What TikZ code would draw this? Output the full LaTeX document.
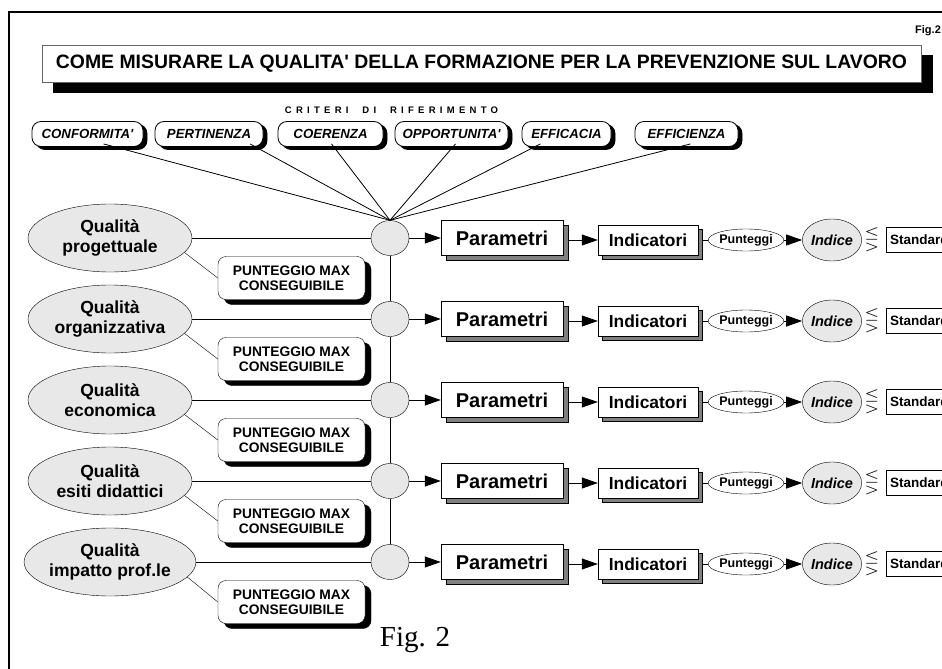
\documentclass[tikz,border=0pt]{standalone}
\usepackage{fontspec}
\usepackage{amssymb}
\setmainfont{Liberation Sans}
\newfontfamily\figfont{Liberation Serif}
\newfontfamily\spacedfont[LetterSpace=45]{Liberation Sans}
\usetikzlibrary{arrows.meta,shapes.geometric,shadows,positioning}
\tikzset{
  qf-titolo/.style={draw=black!60, fill=white, minimum width=879pt, minimum height=37pt, inner sep=0pt,
    font=\fontsize{19.4}{22}\selectfont\bfseries,
    copy shadow={shadow xshift=11pt, shadow yshift=-10pt, fill=black, draw=black}},
  qf-criterio/.style={draw=black, fill=white, rounded corners=9pt, minimum height=25pt, inner xsep=3pt,
    font=\fontsize{13.2}{15}\selectfont\bfseries\itshape, line width=0.8pt,
    copy shadow={shadow xshift=4pt, shadow yshift=-3pt, fill=black, draw=black}},
  qf-qualita/.style={ellipse, draw=black, fill=black!9, minimum width=164pt, minimum height=68pt,
    inner sep=0pt, align=center, font=\fontsize{17.5}{20}\selectfont\bfseries},
  qf-puntmax/.style={draw=black, fill=white, rounded corners=8pt, minimum width=147pt, minimum height=43pt,
    inner sep=0pt, align=center, font=\fontsize{13.8}{15.5}\selectfont\bfseries,
    copy shadow={shadow xshift=6pt, shadow yshift=-5pt, fill=black, draw=black}},
  qf-nodo/.style={ellipse, draw=black, fill=black!9, minimum width=38pt, minimum height=35pt, inner sep=0pt},
  qf-parametri/.style={draw=black, fill=white, minimum width=122pt, minimum height=35pt, inner sep=0pt,
    font=\fontsize{20}{22}\selectfont\bfseries,
    copy shadow={shadow xshift=5pt, shadow yshift=-5pt, fill=black!50, draw=black}},
  qf-indicatori/.style={draw=black, fill=white, minimum width=100pt, minimum height=30pt, inner sep=0pt,
    font=\fontsize{17.4}{19}\selectfont\bfseries,
    copy shadow={shadow xshift=4pt, shadow yshift=-4pt, fill=black!50, draw=black}},
  qf-punteggi/.style={ellipse, draw=black, fill=white, minimum width=70pt, minimum height=22pt, inner sep=0pt,
    font=\fontsize{12.5}{14}\selectfont\bfseries},
  qf-indice/.style={ellipse, draw=black, fill=black!9, minimum width=44pt, minimum height=42pt, inner sep=0pt,
    font=\fontsize{14.5}{16}\selectfont\bfseries\itshape},
  qf-standard/.style={draw=black, fill=white, anchor=west, minimum height=25pt, text width=70pt, align=left,
    inner xsep=4pt, font=\fontsize{13.5}{15}\selectfont\bfseries},
  qf-freccia/.style={-{Triangle[length=16pt, width=11pt]}, line width=0.8pt},
  qf-linea/.style={line width=0.8pt}
}

\begin{document}
\begin{tikzpicture}[x=1pt, y=-1pt]
  \useasboundingbox (0,0) rectangle (942,669);
  \clip (0,0) rectangle (942,669);
  % outer frame
  \draw[line width=2pt] (8.5,12) rectangle (990,720);

  % title
  \node[qf-titolo] (titolo) at (481.5,63.5) {COME MISURARE LA QUALITA\textquotesingle{} DELLA FORMAZIONE PER LA PREVENZIONE SUL LAVORO};
  \node[font=\fontsize{11}{12}\selectfont\bfseries, anchor=west, inner sep=0pt] (figtop) at (915,31) {Fig.2};

  % criteri di riferimento
  \node[font=\fontsize{9.5}{10}\selectfont\spacedfont\bfseries, inner sep=0pt] (criteri) at (391.5,110) {CRITERI\ \ DI\ \ RIFERIMENTO};
  \node[qf-criterio, minimum width=111pt] (crit1) at (87.5,134) {CONFORMITA\textquotesingle};
  \node[qf-criterio, minimum width=108pt] (crit2) at (209,134) {PERTINENZA};
  \node[qf-criterio, minimum width=105pt] (crit3) at (330.5,134) {COERENZA};
  \node[qf-criterio, minimum width=113pt] (crit4) at (451.5,134) {OPPORTUNITA\textquotesingle};
  \node[qf-criterio, minimum width=89pt] (crit5) at (566.5,134) {EFFICACIA};
  \node[qf-criterio, minimum width=103pt] (crit6) at (686.5,134) {EFFICIENZA};

  % one row per qualita
  \foreach \i/\riga in {1/progettuale,2/organizzativa,3/economica,4/esiti didattici,5/impatto prof.le} {
    \pgfmathsetmacro\yy{238+81*(\i-1)}
    \node[qf-qualita] (qual\i) at (110,\yy) {Qualità\\\riga};
    \node[qf-puntmax] (pmax\i) at (291.5,\yy+40) {PUNTEGGIO MAX\\CONSEGUIBILE};
    \node[qf-nodo] (nodo\i) at (390,\yy) {};
    \node[qf-parametri] (par\i) at (502,\yy) {Parametri};
    \node[qf-indicatori] (ind\i) at (648,\yy+2) {Indicatori};
    \node[qf-punteggi] (pun\i) at (746,\yy+2) {Punteggi};
    \node[qf-indice] (idx\i) at (832,\yy+2) {Indice};
    \node[font=\fontsize{19}{20}\selectfont, inner sep=0pt] (cfr\i) at (872,\yy+2) {$\lesseqgtr$};
    \node[qf-standard] (std\i) at (886,\yy+2) {Standard};
    \draw[qf-linea] (qual\i.east) -- (nodo\i.west);
    \draw (qual\i.-11) -- (pmax\i.west);
    \draw[qf-freccia] (nodo\i.east) -- (par\i.west);
    \draw[qf-freccia] ([xshift=5pt]par\i.east |- ind\i.west) -- (ind\i.west);
    \draw[qf-linea] ([xshift=4pt]ind\i.east) -- (pun\i.west);
    \draw[qf-freccia] (pun\i.east) -- (idx\i.west);
  }
  % vertical link between the nodes
  \foreach \i [evaluate=\i as \j using int(\i+1)] in {1,...,4}
    \draw[qf-linea] (nodo\i.south) -- (nodo\j.north);

  % criteri to first node
  \draw[qf-linea] ([xshift=16pt, yshift=3pt]crit1.south) -- (nodo1.north);
  \draw[qf-linea] ([xshift=41pt, yshift=3pt]crit2.south) -- (nodo1.north);
  \draw[qf-linea] ([xshift=1pt, yshift=3pt]crit3.south) -- (nodo1.north);
  \draw[qf-linea] ([xshift=4pt, yshift=3pt]crit4.south) -- (nodo1.north);
  \draw[qf-linea] ([xshift=-26pt, yshift=3pt]crit5.south) -- (nodo1.north);
  \draw[qf-linea] ([xshift=4pt, yshift=3pt]crit6.south) -- (nodo1.north);

  % caption
  \node[font=\figfont\fontsize{29}{32}\selectfont, inner sep=0pt] (didascalia) at (415,640) {Fig. 2};
\end{tikzpicture}
\end{document}
